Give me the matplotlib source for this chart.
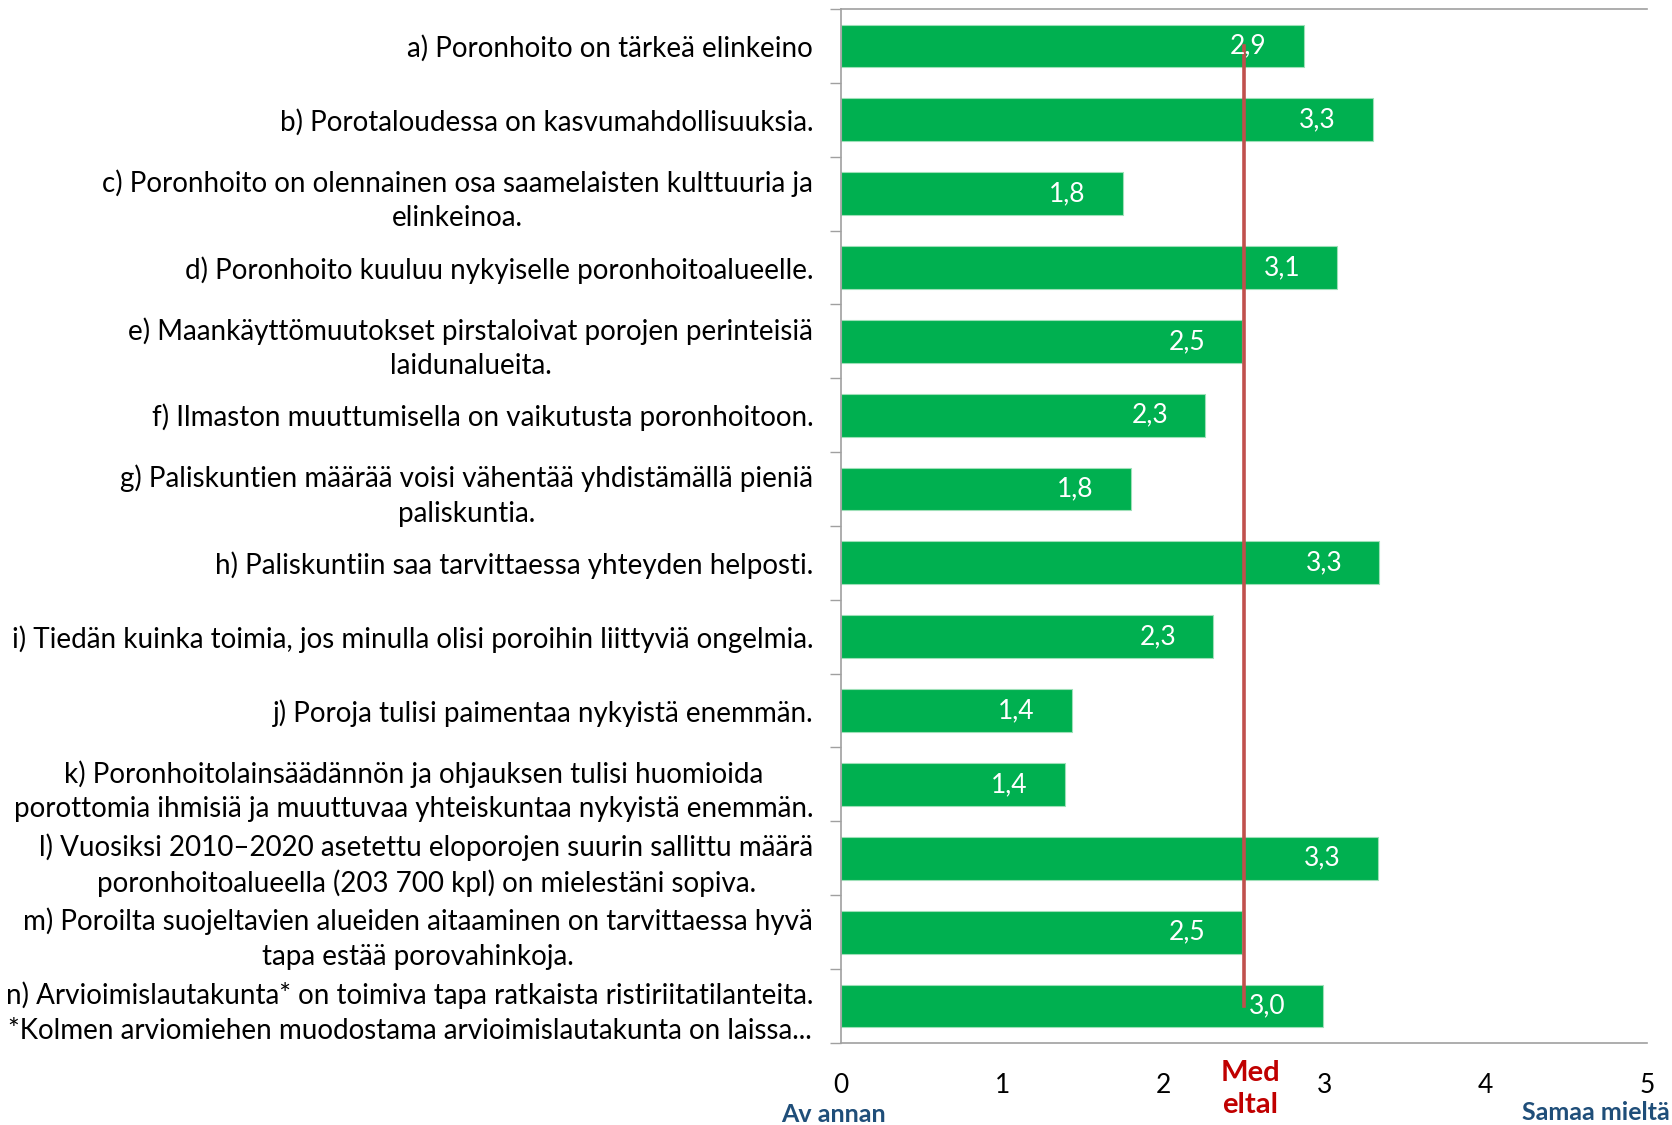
import numpy as np
import matplotlib.pyplot as plt

plt.rcParams['font.family'] = ['Lato', 'DejaVu Sans']

labels = [
    "a) Poronhoito on tärkeä elinkeino",
    "b) Porotaloudessa on kasvumahdollisuuksia.",
    "c) Poronhoito on olennainen osa saamelaisten kulttuuria ja\nelinkeinoa.",
    "d) Poronhoito kuuluu nykyiselle poronhoitoalueelle.",
    "e) Maankäyttömuutokset pirstaloivat porojen perinteisiä\nlaidunalueita.",
    "f) Ilmaston muuttumisella on vaikutusta poronhoitoon.",
    "g) Paliskuntien määrää voisi vähentää yhdistämällä pieniä\npaliskuntia.",
    "h) Paliskuntiin saa tarvittaessa yhteyden helposti.",
    "i) Tiedän kuinka toimia, jos minulla olisi poroihin liittyviä ongelmia.",
    "j) Poroja tulisi paimentaa nykyistä enemmän.",
    "k) Poronhoitolainsäädännön ja ohjauksen tulisi huomioida\nporottomia ihmisiä ja muuttuvaa yhteiskuntaa nykyistä enemmän.",
    "l) Vuosiksi 2010–2020 asetettu eloporojen suurin sallittu määrä\nporonhoitoalueella (203 700 kpl) on mielestäni sopiva.",
    "m) Poroilta suojeltavien alueiden aitaaminen on tarvittaessa hyvä\ntapa estää porovahinkoja.",
    "n) Arvioimislautakunta* on toimiva tapa ratkaista ristiriitatilanteita.\n*Kolmen arviomiehen muodostama arvioimislautakunta on laissa...",
]
values = [2.87, 3.30, 1.75, 3.08, 2.49, 2.26, 1.80, 3.34, 2.31, 1.43, 1.39, 3.33, 2.49, 2.99]
medeltal = 2.5

green = "#00B050"
red_line = "#C0504D"
blue = "#1F4E79"
grey = "#A0A0A0"

fig = plt.figure(figsize=(16.72, 11.25), dpi=100)
ax = fig.add_axes([0.503, 0.073, 0.482, 0.919])

y = np.arange(len(values))
ax.barh(y, values, height=0.58, color=green, edgecolor="#9ee0b8", linewidth=0.8, zorder=2)

for yi, v in zip(y, values):
    ax.annotate(f"{v:.1f}".replace(".", ","), (v, yi), xytext=(-40, 0),
                textcoords="offset points", ha="center", va="center",
                color="white", fontsize=19, zorder=4)

ax.plot([medeltal, medeltal], [y[0], y[-1]], color=red_line, lw=2.6, zorder=3)

ax.set_xlim(0, 5)
ax.set_ylim(len(values) - 0.5, -0.5)
ax.set_xticks(range(6))
ax.tick_params(axis="x", length=0, pad=22, labelsize=19)
ax.set_yticks(y)
ax.set_yticklabels(labels, fontsize=20, multialignment="center", linespacing=1.4)
ax.tick_params(axis="y", which="major", length=0, pad=20)
ax.set_yticks(np.arange(-0.5, len(values)), minor=True)
ax.tick_params(axis="y", which="minor", length=8, color=grey, width=1)

for s in ["left", "top", "bottom"]:
    ax.spines[s].set_color(grey)
    ax.spines[s].set_linewidth(1.2)
ax.spines["right"].set_visible(False)

fig.text(833 / 1672, 1 - 1114 / 1125, "Av annan", color=blue, fontsize=18,
         fontweight="bold", ha="center", va="center")
fig.text(1596 / 1672, 1 - 1112 / 1125, "Samaa mieltä", color=blue, fontsize=18,
         fontweight="bold", ha="center", va="center")
fig.text(1250 / 1672, 1 - 1089 / 1125, "Med\neltal", color="#C00000", fontsize=21,
         fontweight="bold", ha="center", va="center", linespacing=1.25)

fig.savefig("out.png", dpi=100)
